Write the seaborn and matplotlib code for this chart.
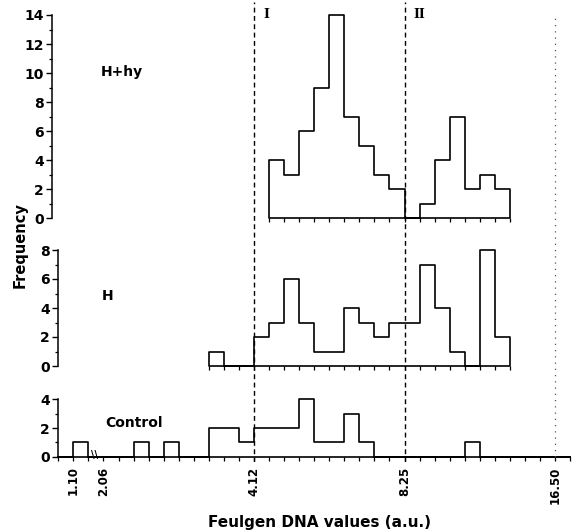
# Feulgen DNA histograms (H+hy, H, Control)
import numpy as np
import pandas as pd
import matplotlib
matplotlib.use("Agg")
import matplotlib.pyplot as plt
import seaborn as sns

# x axis is in DNA classes: 0 = 4.12, 10 = 8.25, 20 = 16.50 (left part is broken)
hhy_start = 1
hhy_counts = [4, 3, 6, 9, 14, 7, 5, 3, 2, 0, 1, 4, 7, 2, 3, 2]

h_start = -3
h_counts = [1, 0, 0, 2, 3, 6, 3, 1, 1, 4, 3, 2, 3, 3, 7, 4, 1, 0, 8, 2]

ctrl_start = -13
ctrl_counts = [0, 1, 0, 0, 0, 1, 0, 1, 0, 0, 2, 2, 1, 2, 2, 2, 4, 1, 1, 3, 1,
               0, 0, 0, 0, 0, 0, 1, 0, 0, 0, 0, 0, 0]

xtick_pos = [-12, -10, 0, 10, 20]
xtick_labels = ["1.10", "2.06", "4.12", "8.25", "16.50"]
ref_lines = [0, 10, 20]
roman = ["I", "II"]

sns.set_style("ticks")
plt.rcParams["font.family"] = ["DejaVu Sans"]
plt.rcParams["font.weight"] = "bold"
for k in ["text.color", "axes.labelcolor", "xtick.color", "ytick.color", "axes.edgecolor"]:
    plt.rcParams[k] = "black"

W, H = 582, 532
fig = plt.figure(figsize=(W / 100, H / 100), dpi=100)

x_lo, x_hi = -13.4, 21.4
px0, ppu = 254, 15.05


def px_rect(top, bottom):
    left = px0 + x_lo * ppu
    right = px0 + x_hi * ppu
    return [left / W, 1 - bottom / H, (right - left) / W, (bottom - top) / H]


panels = [
    ("H+hy", hhy_start, hhy_counts, 14, (15, 218.3), (-10.2, 10.1), -13.4),
    ("H", h_start, h_counts, 8, (250, 366), (-10.1, 4.8), -13.0),
    ("Control", ctrl_start, ctrl_counts, 4, (399.3, 456.7), (-9.9, 2.35), -13.0),
]

for i, (name, start, counts, ymax, (top, bottom), lab, spine_x) in enumerate(panels):
    ax = fig.add_axes(px_rect(top, bottom))
    edges = np.arange(start, start + len(counts) + 1)
    df = pd.DataFrame({"cls": edges[:-1] + 0.5, "n": counts})
    sns.histplot(data=df, x="cls", weights="n", binwidth=1,
                 binrange=(edges[0], edges[-1]), element="step",
                 fill=True, color="black", facecolor="none", edgecolor="black",
                 linewidth=1.2, ax=ax)
    for c in ax.collections:
        c.set_clip_on(False)
    ax.set_xlim(x_lo, x_hi)
    ax.set_ylim(0, ymax)
    ax.set_xlabel("")
    ax.set_ylabel("")
    ax.set_yticks(range(0, ymax + 1, 2))
    ax.set_yticks(range(ymax + 1), minor=True)
    ax.set_xticks(edges, minor=True)
    if i == 2:
        ax.set_xticks(xtick_pos)
        ax.set_xticklabels(xtick_labels, rotation=90, fontsize=8.5)
        ax.text(-10.6, 0.1, "\\\\", fontsize=7, ha="center", va="center")
    else:
        ax.set_xticks([])
    for s in ["top", "right", "bottom"]:
        ax.spines[s].set_visible(False)
    ax.spines["left"].set_position(("data", spine_x))
    ax.spines["left"].set_linewidth(1.1)
    ax.tick_params(axis="y", which="major", length=4, width=1.0, labelsize=10, pad=2)
    ax.tick_params(axis="y", which="minor", length=2.5, width=0.9)
    ax.tick_params(axis="x", which="both", length=3, width=0.9, direction="out", pad=4)
    ax.patch.set_alpha(0)
    ax.text(lab[0], lab[1], name, fontsize=10, va="center", ha="left")

# dashed reference lines across all panels
ov = fig.add_axes(px_rect(0, 462))
ov.set_xlim(x_lo, x_hi)
ov.set_ylim(0, 1)
ov.axis("off")
ov.axvline(ref_lines[0], ymin=0, ymax=0.995, color="black", lw=1.0, ls=(0, (3.5, 2.5)))
ov.axvline(ref_lines[1], ymin=0, ymax=0.995, color="black", lw=1.0, ls=(0, (3.5, 2.5)))
ov.axvline(ref_lines[2], ymin=0.01, ymax=0.97, color="#555555", lw=0.9, ls=(0, (1, 4)))
for xr, r in zip(ref_lines[:2], roman):
    ov.text(xr + 0.6, 1 - 15 / 462, r, fontsize=9, family="DejaVu Serif",
            fontweight="bold", va="center", ha="left")

fig.text(20 / W, 1 - 245 / H, "Frequency", rotation=90, fontsize=10.5,
         va="center", ha="center")
fig.text(319 / W, 1 - 522 / H, "Feulgen DNA values (a.u.)", fontsize=11,
         va="center", ha="center")

fig.savefig("out.png", dpi=100)
